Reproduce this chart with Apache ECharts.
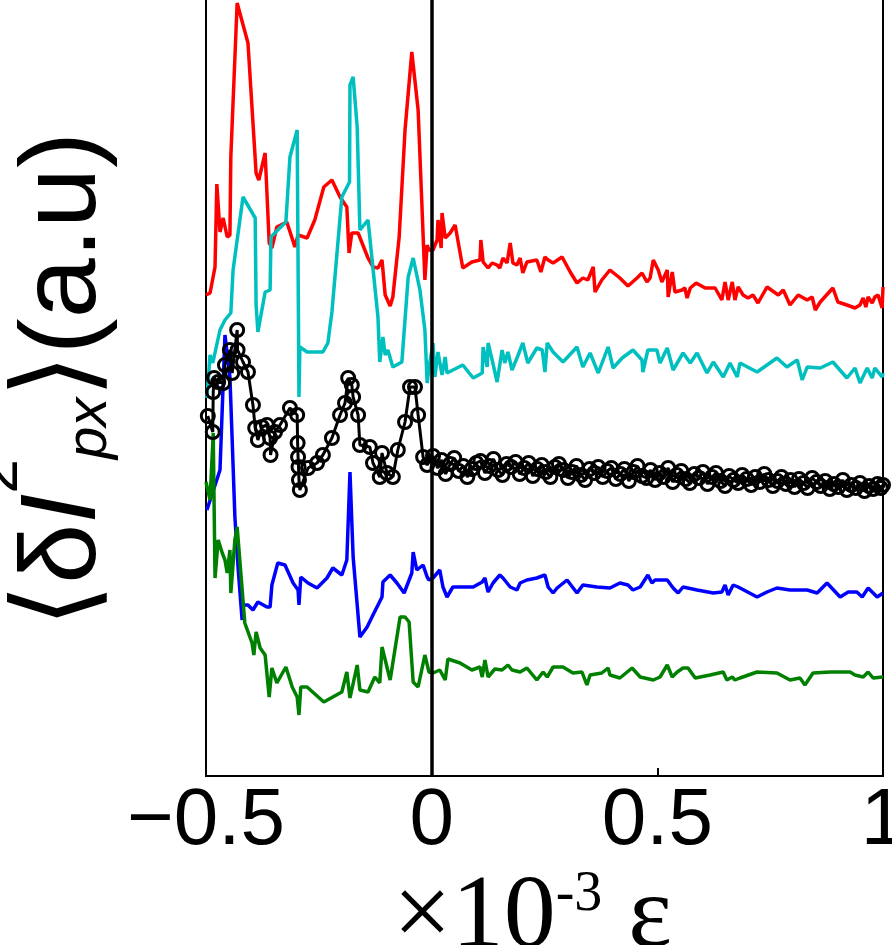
<!DOCTYPE html>
<html>
<head>
<meta charset="utf-8">
<script src="https://cdn.jsdelivr.net/npm/echarts@6/dist/echarts.min.js"></script>
<style>
  html, body { margin: 0; padding: 0; background: #fff; }
  #chart { width: 892px; height: 945px; }
</style>
</head>
<body>
<div id="chart"></div>
<script>
// x in units of 1e-3 strain, y in arbitrary units (curves are offset)
const xTicks = [-0.5, 0, 0.5, 1]

const redX = [-0.500,-0.491,-0.480,-0.476,-0.469,-0.462,-0.453,-0.447,-0.445,-0.431,
  -0.407,-0.389,-0.383,-0.369,-0.360,-0.354,-0.343,-0.321,-0.303,-0.296,
  -0.276,-0.259,-0.239,-0.221,-0.203,-0.188,-0.183,-0.177,-0.163,-0.141,
  -0.130,-0.119,-0.110,-0.103,-0.092,-0.086,-0.072,-0.059,-0.044,-0.030,
  -0.015,-0.010,-0.006,
  0.003,0.012,0.014,0.021,0.023,0.030,0.041,0.052,0.069,0.089,
  0.107,0.109,0.114,0.125,0.134,0.145,0.151,0.158,0.167,0.174,
  0.180,0.189,0.196,0.202,0.211,0.233,0.242,0.251,0.258,0.269,
  0.289,0.307,0.322,0.335,0.346,0.358,0.362,0.377,0.395,0.417,
  0.435,0.455,0.466,0.477,0.484,0.491,0.502,0.510,0.522,0.524,
  0.533,0.539,0.555,0.561,0.566,0.573,0.586,0.606,0.628,0.643,
  0.650,0.657,0.666,0.672,0.679,0.690,0.701,0.712,0.723,0.743,
  0.768,0.779,0.794,0.812,0.832,0.843,0.850,0.861,0.889,0.900,
  0.920,0.938,0.949,0.956,0.962,0.967,0.976,0.982,0.989,0.998,1.000]
const redY = [4.81,4.83,5.09,5.92,5.44,5.58,5.39,5.41,6.19,7.73,
  7.33,6.03,5.96,6.23,5.33,5.28,5.49,5.54,5.29,5.41,
  5.38,5.56,5.89,5.96,5.79,5.69,5.23,5.43,5.43,5.18,
  5.09,5.08,5.16,4.81,4.70,4.79,5.39,6.46,7.24,6.66,
  4.96,5.31,5.26,
  5.26,5.36,5.56,5.28,5.63,5.38,5.43,5.51,5.08,5.14,
  5.16,5.36,5.14,5.08,5.13,5.11,5.08,5.18,5.13,5.33,
  5.13,5.11,5.18,5.03,5.14,5.16,5.04,5.19,5.16,5.13,
  5.19,5.04,4.93,4.98,4.96,5.09,4.84,4.96,5.06,4.98,
  4.90,4.98,5.03,4.94,4.98,5.16,5.06,4.94,5.06,4.79,
  5.04,4.84,4.86,4.88,4.78,4.88,4.93,4.88,4.88,4.76,
  4.94,4.76,4.94,4.76,4.89,4.81,4.78,4.81,4.73,4.89,
  4.81,4.86,4.71,4.81,4.76,4.79,4.66,4.74,4.88,4.74,
  4.71,4.68,4.71,4.78,4.69,4.79,4.73,4.79,4.81,4.68,4.89]

const cyanX = [-0.498,-0.491,-0.485,-0.469,-0.458,-0.445,-0.440,-0.418,-0.391,-0.389,
  -0.385,-0.369,-0.358,-0.356,-0.341,-0.323,-0.314,-0.298,-0.294,-0.292,
  -0.276,-0.241,-0.230,-0.221,-0.199,-0.182,-0.181,-0.174,-0.165,-0.159,
  -0.141,-0.119,-0.115,-0.108,-0.103,-0.097,-0.086,-0.066,-0.052,-0.041,
  -0.026,-0.015,-0.010,-0.006,
  0.003,0.007,0.014,0.023,0.030,0.034,0.069,0.092,0.112,0.114,
  0.123,0.125,0.134,0.145,0.156,0.162,0.169,0.178,0.189,0.202,
  0.213,0.233,0.245,0.251,0.256,0.269,0.291,0.322,0.335,0.351,
  0.369,0.391,0.402,0.422,0.446,0.466,0.468,0.479,0.499,0.506,
  0.522,0.535,0.557,0.573,0.588,0.610,0.624,0.646,0.661,0.677,
  0.683,0.721,0.765,0.787,0.810,0.821,0.832,0.861,0.889,0.920,
  0.938,0.949,0.965,0.976,0.982,0.998,1.000]
const cyanY = [3.78,4.21,4.13,4.46,4.56,4.63,5.06,5.79,5.58,4.71,
  4.44,4.84,4.86,5.39,5.46,5.54,6.19,6.46,3.79,4.29,
  4.24,4.24,4.33,4.64,5.79,5.94,6.91,6.99,6.49,5.46,
  5.56,4.59,4.14,4.39,4.21,4.26,4.09,4.14,4.99,5.18,
  4.86,4.46,3.93,4.08,
  4.33,3.99,4.24,4.01,4.19,4.03,4.11,3.98,4.03,4.29,
  4.09,4.33,4.16,3.94,4.26,4.13,4.24,4.06,4.18,4.33,
  4.13,4.28,4.26,4.04,4.33,4.24,4.14,4.29,4.09,4.23,
  4.03,4.29,4.08,4.18,4.26,4.16,4.04,4.26,4.26,4.13,
  4.28,4.06,4.23,4.13,4.23,4.03,4.14,3.99,4.13,3.99,
  4.13,4.04,4.18,4.09,4.16,3.96,4.09,4.08,4.14,3.98,
  4.08,3.93,4.08,3.98,4.08,3.99,4.03]

const blackX = [-0.496,-0.485,-0.484,-0.482,-0.473,-0.462,-0.458,-0.447,-0.442,-0.431,
  -0.430,-0.418,-0.407,-0.396,-0.391,-0.385,-0.376,-0.365,-0.358,-0.357,
  -0.347,-0.336,-0.314,-0.298,-0.297,-0.296,-0.295,-0.294,-0.292,-0.274,
  -0.254,-0.241,-0.221,-0.203,-0.192,-0.185,-0.177,-0.174,-0.163,-0.159,
  -0.137,-0.130,-0.115,-0.110,-0.099,-0.086,-0.075,-0.059,-0.048,-0.037,
  -0.030,-0.019,-0.010,
  0.003,0.013,0.022,0.031,0.041,0.050,0.060,0.070,0.079,0.089,
  0.099,0.108,0.118,0.128,0.137,0.147,0.157,0.166,0.176,0.186,
  0.195,0.205,0.215,0.224,0.234,0.244,0.253,0.263,0.273,0.282,
  0.292,0.302,0.311,0.321,0.331,0.340,0.350,0.360,0.369,0.379,
  0.389,0.398,0.408,0.418,0.427,0.437,0.447,0.456,0.466,0.476,
  0.485,0.495,0.505,0.514,0.524,0.534,0.543,0.553,0.563,0.572,
  0.582,0.592,0.601,0.611,0.621,0.630,0.640,0.650,0.659,0.669,
  0.679,0.688,0.698,0.708,0.717,0.727,0.737,0.746,0.756,0.766,
  0.775,0.785,0.795,0.804,0.814,0.824,0.833,0.843,0.853,0.862,
  0.872,0.882,0.891,0.901,0.911,0.920,0.930,0.940,0.949,0.959,
  0.969,0.978,0.988,0.995,1.000]
const blackY = [3.60,3.44,3.84,3.98,3.94,3.93,4.11,4.26,4.03,4.46,
  4.26,4.14,4.04,3.71,3.48,3.36,3.49,3.51,3.38,3.21,
  3.44,3.51,3.68,3.61,3.33,3.19,3.09,2.96,2.86,3.08,
  3.13,3.21,3.38,3.61,3.73,3.98,3.91,3.79,3.61,3.31,
  3.29,3.13,2.99,3.23,3.03,2.99,3.26,3.54,3.89,3.89,
  3.61,3.19,3.11,
  3.20,3.08,3.16,3.02,3.12,3.18,3.05,3.10,2.99,3.07,
  3.13,3.15,3.03,3.10,3.17,3.06,3.01,3.12,3.09,3.14,
  3.02,3.08,3.13,3.00,3.07,3.11,3.04,2.99,3.09,3.12,
  3.06,2.98,3.04,3.10,3.01,2.96,3.07,3.03,3.09,2.99,
  3.05,3.08,2.97,3.02,3.07,2.95,3.04,3.10,3.00,2.98,
  3.06,2.96,3.03,2.99,3.08,2.94,3.01,3.05,2.97,2.93,
  3.02,2.98,3.04,2.92,2.99,3.03,2.95,2.90,3.00,2.96,
  2.93,3.01,2.97,2.91,2.99,2.94,3.02,2.96,2.90,2.95,
  2.99,2.92,2.96,2.89,2.97,2.93,2.88,2.98,2.94,2.90,
  2.95,2.87,2.92,2.89,2.96,2.86,2.91,2.88,2.93,2.85,
  2.90,2.87,2.92,2.88,2.91]

const blueX = [-0.498,-0.469,-0.458,-0.447,-0.442,-0.436,-0.429,-0.420,-0.418,-0.407,
  -0.396,-0.385,-0.365,-0.358,-0.354,-0.341,-0.325,-0.307,-0.296,-0.294,
  -0.290,-0.274,-0.254,-0.232,-0.219,-0.199,-0.188,-0.181,-0.174,-0.159,
  -0.143,-0.130,-0.110,-0.108,-0.092,-0.077,-0.061,-0.044,-0.041,-0.033,
  -0.019,-0.010,-0.006,
  0.003,0.018,0.025,0.034,0.047,0.092,0.112,0.118,0.125,0.136,
  0.151,0.158,0.174,0.189,0.196,0.211,0.233,0.251,0.258,0.269,
  0.278,0.300,0.322,0.335,0.366,0.395,0.417,0.435,0.446,0.462,
  0.479,0.488,0.495,0.522,0.535,0.546,0.557,0.588,0.624,0.643,
  0.650,0.657,0.668,0.679,0.721,0.743,0.765,0.794,0.832,0.854,
  0.876,0.905,0.923,0.942,0.954,0.967,0.987,1.000]
const blueY = [2.66,3.06,4.41,3.99,3.36,2.59,2.09,1.56,1.71,1.71,
  1.66,1.74,1.69,1.69,1.91,2.13,2.11,1.93,1.86,1.71,
  1.99,1.93,1.88,1.98,2.08,2.01,2.16,3.04,2.19,1.39,
  1.49,1.61,1.79,1.94,2.01,1.93,1.83,2.03,2.24,2.06,
  2.11,1.99,1.96,
  1.98,2.06,1.89,1.79,1.89,1.89,1.94,1.98,1.84,1.93,
  2.01,1.98,1.89,1.86,1.93,1.96,1.98,2.01,1.89,1.83,
  1.88,1.96,1.83,1.91,1.89,1.88,1.93,1.91,1.86,1.89,
  2.01,1.93,1.96,1.96,1.88,1.83,1.89,1.86,1.83,1.84,
  1.91,1.81,1.91,1.89,1.79,1.84,1.88,1.86,1.86,1.83,
  1.93,1.79,1.84,1.84,1.79,1.88,1.79,1.83]

const greenX = [-0.500,-0.491,-0.484,-0.480,-0.473,-0.464,-0.458,-0.453,-0.447,-0.445,
  -0.436,-0.431,-0.414,-0.398,-0.394,-0.389,-0.380,-0.369,-0.360,-0.354,
  -0.343,-0.323,-0.309,-0.298,-0.294,-0.290,-0.276,-0.239,-0.199,-0.188,
  -0.181,-0.165,-0.159,-0.141,-0.126,-0.115,-0.110,-0.092,-0.070,-0.059,
  -0.050,-0.041,-0.030,-0.015,-0.006,
  0.003,0.018,0.030,0.036,0.063,0.089,0.107,0.112,0.118,0.125,
  0.140,0.156,0.169,0.178,0.196,0.211,0.233,0.247,0.256,0.269,
  0.291,0.313,0.333,0.344,0.351,0.377,0.391,0.395,0.417,0.444,
  0.462,0.491,0.506,0.522,0.533,0.544,0.557,0.568,0.584,0.617,
  0.646,0.654,0.666,0.672,0.683,0.721,0.765,0.794,0.816,0.827,
  0.845,0.883,0.927,0.938,0.956,0.967,0.978,1.000]
const greenY = [2.94,2.76,3.43,1.98,2.36,2.23,2.16,2.03,2.26,1.83,
  2.36,2.49,1.53,1.33,1.21,1.44,1.28,1.21,0.79,1.08,
  0.93,1.09,0.89,0.79,0.61,0.89,0.89,0.74,0.84,1.04,
  0.78,1.11,0.86,0.84,0.99,0.93,1.29,0.96,1.59,1.59,
  1.54,0.94,0.89,1.21,1.04,
  1.03,1.06,0.96,1.17,1.13,1.06,1.09,0.99,1.16,0.99,
  1.07,1.06,1.11,1.06,1.04,1.08,0.96,1.04,0.99,1.09,
  1.09,1.03,1.04,0.91,1.01,1.03,1.08,1.01,0.98,1.08,
  0.99,0.96,0.99,1.11,0.99,1.04,1.08,1.08,0.98,1.01,
  1.04,0.96,0.99,0.96,0.98,1.04,1.03,0.96,0.98,0.91,
  1.03,1.04,1.04,1.01,0.99,1.04,0.98,0.99]

const pairs = (xs, ys) => xs.map((x, i) => [x, ys[i]])

const sansFont = '"Liberation Sans", Arial, Helvetica, sans-serif'
const serifFont = '"Liberation Serif", "Times New Roman", serif'
const bracketFont = '"DejaVu Sans", sans-serif'

// plain coloured curve
const curve = (name, xs, ys, color) => ({
  name,
  type: 'line',
  data: pairs(xs, ys),
  symbol: 'none',
  lineStyle: { color, width: 3.5 },
  itemStyle: { color },
  z: 2
})

// rich text pieces of the y title: main glyphs sit low in a tall line,
// the superscript at the top, the subscript at the bottom
const mainTok = { fontFamily: sansFont, fontSize: 108, lineHeight: 108, verticalAlign: 'bottom', color: '#000' }
const yTitleRich = {
  z: { fontSize: 2, lineHeight: 150 },
  b: Object.assign({}, mainTok, { fontFamily: bracketFont, fontSize: 112 }),
  m: mainTok,
  i: Object.assign({}, mainTok, { fontStyle: 'italic' }),
  sup: { fontFamily: sansFont, fontSize: 62, lineHeight: 60, verticalAlign: 'top', color: '#000' },
  sub: { fontFamily: sansFont, fontSize: 58, lineHeight: 60, verticalAlign: 'bottom', fontStyle: 'italic', color: '#000' }
}

const chart = echarts.init(document.getElementById('chart'), null, { renderer: 'canvas' })

const option = {
  animation: false,
  backgroundColor: '#fff',
  grid: {
    left: 206, right: 9, top: -4, bottom: 169,
    outerBoundsMode: 'none',
    show: true, borderColor: '#000', borderWidth: 2, backgroundColor: 'transparent'
  },
  xAxis: {
    type: 'value',
    min: -0.5, max: 1, interval: 0.5,
    axisLine: { show: false },
    axisTick: { show: true, inside: true, length: 8, lineStyle: { color: '#000', width: 2 } },
    splitLine: { show: false },
    axisLabel: {
      fontSize: 80, fontFamily: sansFont, color: '#000', margin: 6,
      formatter: v => (v < 0 ? '\u2212' + Math.abs(v) : String(v))
    },
    name: '{m|\u00d710}{s|-3}{e| \u03b5}',
    nameLocation: 'middle',
    nameGap: 84,
    nameTextStyle: {
      padding: [0, 24, 0, 0],
      rich: {
        m: { fontFamily: serifFont, fontSize: 104, color: '#000', lineHeight: 104 },
        s: { fontFamily: serifFont, fontSize: 56, color: '#000', verticalAlign: 'top', lineHeight: 56 },
        e: { fontFamily: serifFont, fontSize: 104, color: '#000', lineHeight: 104 }
      }
    }
  },
  yAxis: {
    type: 'value',
    min: 0, max: 7.8,
    axisLine: { show: false },
    axisTick: { show: false },
    axisLabel: { show: false },
    splitLine: { show: false }
  },
  graphic: [{
    // y axis title, written bottom to top
    type: 'text',
    x: 44, y: 380,
    rotation: Math.PI / 2,
    style: {
      text: '{z| }{b|\u27e8}{m|\u03b4}{i|I}{sup|2}{sub|px}{b|\u27e9}{m|(a.u)}',
      rich: yTitleRich,
      align: 'center',
      verticalAlign: 'middle'
    }
  }],
  series: [
    curve('red', redX, redY, '#ff0000'),
    curve('cyan', cyanX, cyanY, '#00bfbf'),
    curve('blue', blueX, blueY, '#0000ff'),
    curve('green', greenX, greenY, '#008000'),
    {
      name: 'black',
      type: 'line',
      data: pairs(blackX, blackY),
      symbol: 'circle',
      symbolSize: 13,
      showSymbol: true,
      showAllSymbol: true,
      lineStyle: { color: '#000', width: 3 },
      itemStyle: { color: 'rgba(0,0,0,0)', borderColor: '#000', borderWidth: 3 },
      z: 3,
      markLine: {
        silent: true,
        symbol: ['none', 'none'],
        label: { show: false },
        lineStyle: { color: '#000', width: 3.5, type: 'solid' },
        data: [{ xAxis: 0 }]
      }
    }
  ]
}

chart.setOption(option)
</script>
</body>
</html>
